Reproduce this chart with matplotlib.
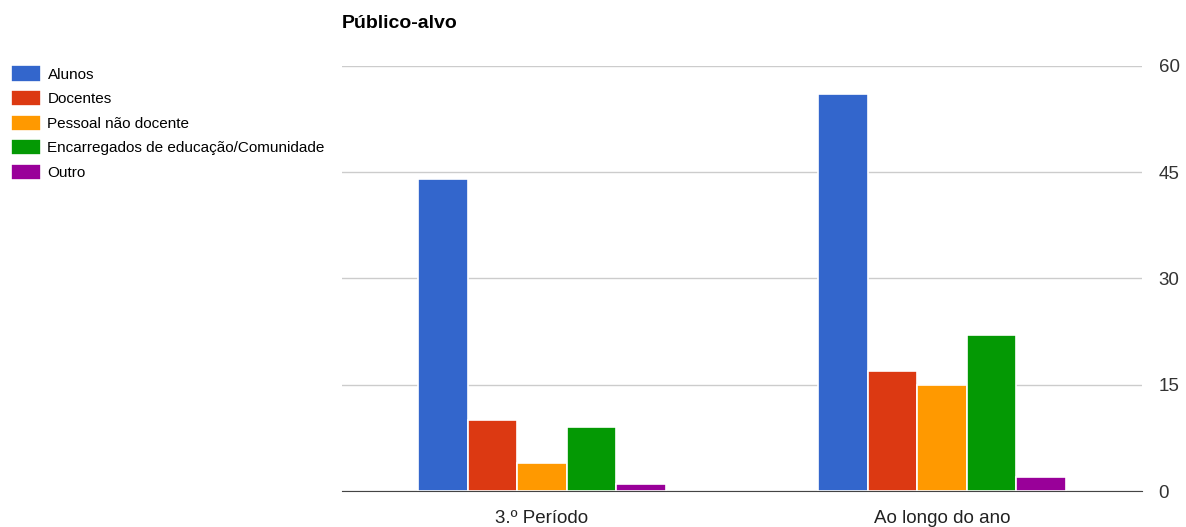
import numpy as np
import matplotlib.pyplot as plt

plt.rcParams['font.family'] = ['Liberation Sans', 'DejaVu Sans']

periods = ["3.º Período", "Ao longo do ano"]
series = ["Alunos", "Docentes", "Pessoal não docente",
          "Encarregados de educação/Comunidade", "Outro"]
values = [
    [44, 56],
    [10, 17],
    [4, 15],
    [9, 22],
    [1, 2],
]
colors = ["#3366cc", "#dc3912", "#ff9900", "#049904", "#990099"]
yticks = [0, 15, 30, 45, 60]

fig = plt.figure(figsize=(11.86, 5.27), dpi=100)
ax = fig.add_axes([0.2884, 0.0683, 0.6745, 0.8065])

x = np.arange(len(periods))
w = 0.124
for i, (name, vals) in enumerate(zip(series, values)):
    ax.bar(x + (i - 2) * w, vals, w, color=colors[i], edgecolor="white",
           linewidth=1.2, label=name, zorder=3)

ax.set_xlim(-0.5, 1.5)
ax.set_ylim(0, 60)
ax.set_yticks(yticks)
ax.yaxis.tick_right()
ax.tick_params(axis='y', length=0, pad=12, labelsize=13.5, labelcolor="#333333")
ax.tick_params(axis='x', length=0, pad=14, labelsize=13.5, labelcolor="#222222")
for lab in ax.get_yticklabels():
    lab.set_horizontalalignment('left')
ax.set_xticks(x)
ax.set_xticklabels(periods)
ax.grid(axis='y', color="#cccccc", linewidth=1, zorder=0)
for s in ['top', 'right', 'left']:
    ax.spines[s].set_visible(False)
ax.spines['bottom'].set_color("#444444")
ax.spines['bottom'].set_zorder(4)

fig.text(0.2884, 0.956, "Público-alvo", fontsize=14, fontweight='bold',
         va='center', ha='left')

fig.legend(loc='upper left', bbox_to_anchor=(0.0095, 0.876), frameon=False,
           fontsize=11, handlelength=1.95, handleheight=1.25, handletextpad=0.42,
           labelspacing=0.55, borderaxespad=0, borderpad=0)

fig.savefig("out.png", dpi=100)
